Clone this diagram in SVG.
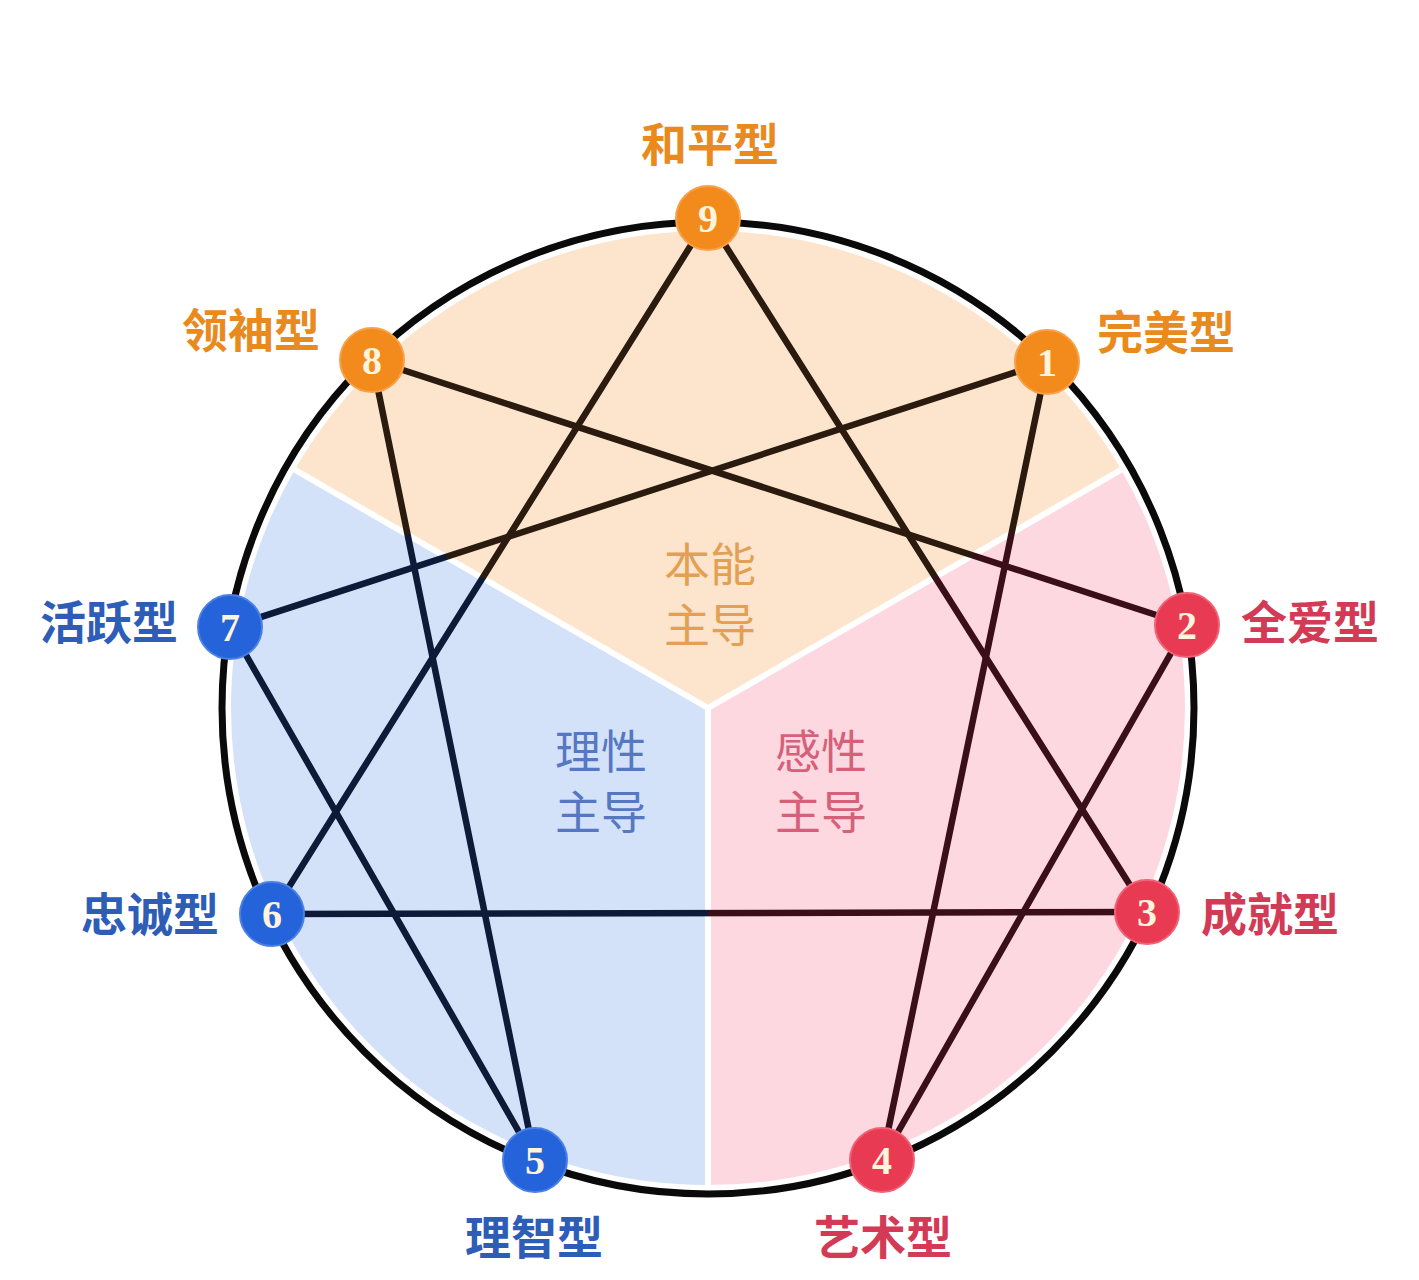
<svg xmlns="http://www.w3.org/2000/svg" width="1419" height="1280" viewBox="0 0 1419 1280">
  <defs>
    <style>
      .lbl { font-family: "Noto Sans CJK SC", "Noto Sans", sans-serif; font-size: 46px; font-weight: 700; text-anchor: middle; }
      .mid { font-family: "Noto Sans CJK SC", "Noto Sans", sans-serif; font-size: 46px; font-weight: 400; text-anchor: middle; }
      .num { font-family: "Liberation Serif", "DejaVu Serif", serif; font-size: 40px; font-weight: 700; text-anchor: middle; fill: #FFF4DC; }
      .o { fill: #E98A1E; }
      .b { fill: #2E5DB8; }
      .r { fill: #D33A55; }
      .no { fill: #F38A1C; stroke: #F7A24A; stroke-width: 2; }
      .nb { fill: #2563DA; stroke: #4C80E4; stroke-width: 2; }
      .nr { fill: #E83A52; stroke: #F06275; stroke-width: 2; }
      .link { stroke-width: 6.5; fill: none; stroke-linecap: round; }
    </style>
    <linearGradient id="g93" gradientUnits="userSpaceOnUse" x1="708" y1="218" x2="1147" y2="912">
      <stop offset="0" stop-color="#2B1A0E"/><stop offset="0.517" stop-color="#2B1A0E"/><stop offset="0.517" stop-color="#3A0F1A"/><stop offset="1" stop-color="#3A0F1A"/>
    </linearGradient>
    <linearGradient id="g96" gradientUnits="userSpaceOnUse" x1="708" y1="218" x2="272" y2="914">
      <stop offset="0" stop-color="#2B1A0E"/><stop offset="0.517" stop-color="#2B1A0E"/><stop offset="0.517" stop-color="#0D1A38"/><stop offset="1" stop-color="#0D1A38"/>
    </linearGradient>
    <linearGradient id="g63" gradientUnits="userSpaceOnUse" x1="272" y1="914" x2="1147" y2="912">
      <stop offset="0" stop-color="#0D1A38"/><stop offset="0.498" stop-color="#0D1A38"/><stop offset="0.498" stop-color="#3A0F1A"/><stop offset="1" stop-color="#3A0F1A"/>
    </linearGradient>
    <linearGradient id="g14" gradientUnits="userSpaceOnUse" x1="1047" y1="362" x2="882" y2="1160">
      <stop offset="0" stop-color="#2B1A0E"/><stop offset="0.214" stop-color="#2B1A0E"/><stop offset="0.214" stop-color="#3A0F1A"/><stop offset="1" stop-color="#3A0F1A"/>
    </linearGradient>
    <linearGradient id="g28" gradientUnits="userSpaceOnUse" x1="1187" y1="625" x2="372" y2="360">
      <stop offset="0" stop-color="#3A0F1A"/><stop offset="0.263" stop-color="#3A0F1A"/><stop offset="0.263" stop-color="#2B1A0E"/><stop offset="1" stop-color="#2B1A0E"/>
    </linearGradient>
    <linearGradient id="g85" gradientUnits="userSpaceOnUse" x1="372" y1="360" x2="535" y2="1160">
      <stop offset="0" stop-color="#2B1A0E"/><stop offset="0.218" stop-color="#2B1A0E"/><stop offset="0.218" stop-color="#0D1A38"/><stop offset="1" stop-color="#0D1A38"/>
    </linearGradient>
    <linearGradient id="g71" gradientUnits="userSpaceOnUse" x1="230" y1="627" x2="1047" y2="362">
      <stop offset="0" stop-color="#0D1A38"/><stop offset="0.265" stop-color="#0D1A38"/><stop offset="0.265" stop-color="#2B1A0E"/><stop offset="1" stop-color="#2B1A0E"/>
    </linearGradient>
  </defs>

  <rect x="0" y="0" width="1419" height="1280" fill="#FFFFFF"/>

  <g id="sectors">
    <path d="M708,708 L294.9,469.5 A477,477 0 0 1 1121.1,469.5 Z" fill="#FDE5CD"/>
    <path d="M708,708 L1121.1,469.5 A477,477 0 0 1 708,1185 Z" fill="#FED8E0"/>
    <path d="M708,708 L708,1185 A477,477 0 0 1 294.9,469.5 Z" fill="#D3E1F9"/>
    <g stroke="#FFFFFF" stroke-width="6">
      <line x1="708" y1="708" x2="290" y2="467"/>
      <line x1="708" y1="708" x2="1126" y2="467"/>
      <line x1="708" y1="708" x2="708" y2="1190"/>
    </g>
  </g>

  <g id="ring">
    <circle cx="708" cy="708" r="486" fill="none" stroke="#0A0A0A" stroke-width="7"/>
  </g>

  <g id="center-labels">
    <text class="mid" x="710" y="581" fill="#E3A054">本能</text>
    <text class="mid" x="710" y="642" fill="#E3A054">主导</text>
    <text class="mid" x="601" y="768" fill="#5678C2">理性</text>
    <text class="mid" x="601" y="829" fill="#5678C2">主导</text>
    <text class="mid" x="821" y="768" fill="#D5607A">感性</text>
    <text class="mid" x="821" y="829" fill="#D5607A">主导</text>
  </g>

  <g id="connectors">
    <line class="link" x1="708" y1="218" x2="1147" y2="912" stroke="url(#g93)"/>
    <line class="link" x1="708" y1="218" x2="272" y2="914" stroke="url(#g96)"/>
    <line class="link" x1="272" y1="914" x2="1147" y2="912" stroke="url(#g63)"/>
    <line class="link" x1="1047" y1="362" x2="882" y2="1160" stroke="url(#g14)"/>
    <line class="link" x1="882" y1="1160" x2="1187" y2="625" stroke="#3A0F1A"/>
    <line class="link" x1="1187" y1="625" x2="372" y2="360" stroke="url(#g28)"/>
    <line class="link" x1="372" y1="360" x2="535" y2="1160" stroke="url(#g85)"/>
    <line class="link" x1="535" y1="1160" x2="230" y2="627" stroke="#0D1A38"/>
    <line class="link" x1="230" y1="627" x2="1047" y2="362" stroke="url(#g71)"/>
  </g>

  <g id="node9"><circle class="no" cx="708" cy="218" r="32"/><text class="num" x="708" y="232">9</text><text class="lbl o" x="710" y="161">和平型</text></g>
  <g id="node1"><circle class="no" cx="1047" cy="362" r="32"/><text class="num" x="1047" y="376">1</text><text class="lbl o" x="1166" y="349">完美型</text></g>
  <g id="node2"><circle class="nr" cx="1187" cy="625" r="32"/><text class="num" x="1187" y="639">2</text><text class="lbl r" x="1310" y="639">全爱型</text></g>
  <g id="node3"><circle class="nr" cx="1147" cy="912" r="32"/><text class="num" x="1147" y="926">3</text><text class="lbl r" x="1270" y="931">成就型</text></g>
  <g id="node4"><circle class="nr" cx="882" cy="1160" r="32"/><text class="num" x="882" y="1174">4</text><text class="lbl r" x="883" y="1254">艺术型</text></g>
  <g id="node5"><circle class="nb" cx="535" cy="1160" r="32"/><text class="num" x="535" y="1174">5</text><text class="lbl b" x="534" y="1254">理智型</text></g>
  <g id="node6"><circle class="nb" cx="272" cy="914" r="32"/><text class="num" x="272" y="928">6</text><text class="lbl b" x="150" y="931">忠诚型</text></g>
  <g id="node7"><circle class="nb" cx="230" cy="627" r="32"/><text class="num" x="230" y="641">7</text><text class="lbl b" x="109" y="639">活跃型</text></g>
  <g id="node8"><circle class="no" cx="372" cy="360" r="32"/><text class="num" x="372" y="374">8</text><text class="lbl o" x="251" y="347">领袖型</text></g>
</svg>
